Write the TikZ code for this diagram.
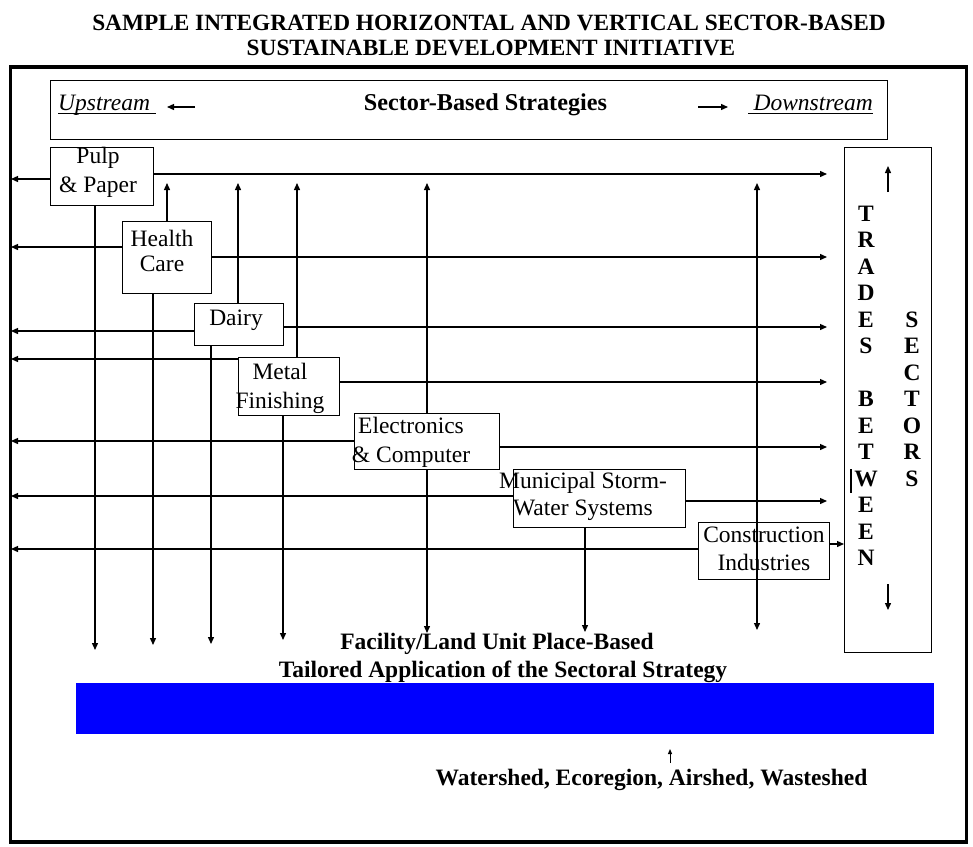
\documentclass[tikz,border=0pt]{standalone}
\usepackage{fontspec}
\setmainfont{Liberation Serif}
\usetikzlibrary{arrows.meta}
\begin{document}
\begin{tikzpicture}[x=1pt,y=-1pt,
  box/.style={draw, line width=1.3pt, inner sep=0pt, anchor=north west},
  lbl/.style={font=\fontsize{23.5}{28}\selectfont, align=center, inner sep=0pt, anchor=base},
  blbl/.style={font=\bfseries\fontsize{23.5}{28}\selectfont, inner sep=0pt, anchor=base},
  ilbl/.style={font=\itshape\fontsize{23.5}{28}\selectfont, inner sep=0pt},
  arr/.style={line width=1.3pt, -{Triangle[length=7pt,width=6pt]}},
  ln/.style={line width=1.3pt},
  uline/.style={line width=1pt},
]
\useasboundingbox (0,0) rectangle (973,846);
% outer frame
\node[draw, line width=3.5pt, inner sep=0pt, anchor=north west, minimum width=956pt, minimum height=775pt] (frame) at (8.5,65) {};
% title
\node[blbl, font=\bfseries\fontsize{23.3}{28}\selectfont] (t1) at (489,30) {SAMPLE INTEGRATED HORIZONTAL AND VERTICAL SECTOR-BASED};
\node[blbl, font=\bfseries\fontsize{23.3}{28}\selectfont] (t2) at (491,55) {SUSTAINABLE DEVELOPMENT INITIATIVE};
% sector-based strategies box
\node[box, minimum width=837pt, minimum height=59pt] (sbs) at (50,80) {};
\node[ilbl, anchor=base west] (up) at (58,110) {Upstream};
\draw[uline] ([yshift=-3.5pt]up.base west) -- ([yshift=-3.5pt,xshift=6pt]up.base east);
\node[blbl, font=\bfseries\fontsize{24.2}{28}\selectfont] (sbt) at (485.5,110) {Sector-Based Strategies};
\node[ilbl, anchor=base east] (down) at (873,110) {Downstream};
\draw[uline] ([yshift=-3.5pt,xshift=-5pt]down.base west) -- ([yshift=-3.5pt]down.base east);
\coordinate (ua1) at (195,107); \coordinate (ua2) at (167,107);
\draw[arr] (ua1) -- (ua2);
\coordinate (da1) at (698,107); \coordinate (da2) at (728,107);
\draw[arr] (da1) -- (da2);
% sector boxes
\node[box, minimum width=103pt, minimum height=58pt] (pulp) at (50,147) {};
\node[box, minimum width=89pt, minimum height=72pt] (health) at (122,221) {};
\node[box, minimum width=89pt, minimum height=42pt] (dairy) at (194,303) {};
\node[box, minimum width=101pt, minimum height=58pt] (metal) at (238,357) {};
\node[box, minimum width=145pt, minimum height=56pt] (elec) at (354,413) {};
\node[box, minimum width=172pt, minimum height=58pt] (muni) at (513,469) {};
\node[box, minimum width=131pt, minimum height=57pt] (cons) at (698,522) {};
\node[box, minimum width=87pt, minimum height=505pt] (trades) at (844,147) {};
% labels (anchored at the baseline of their last line)
\node[lbl, font=\fontsize{23.5}{29}\selectfont] (pulpt) at (98,192) {Pulp\\\& Paper};
\node[lbl, font=\fontsize{23.5}{25}\selectfont] (healtht) at (162,271) {Health\\Care};
\node[lbl] (dairyt) at (236,325) {Dairy};
\node[lbl, font=\fontsize{23.5}{29}\selectfont] (metalt) at (280,408) {Metal\\Finishing};
\node[lbl, font=\fontsize{23.5}{29}\selectfont] (elect) at (411,462) {Electronics\\\& Computer};
\node[lbl, font=\fontsize{23.5}{27}\selectfont] (munit) at (583,515) {Municipal Storm-\\Water Systems};
\node[lbl, font=\fontsize{23.5}{28}\selectfont] (const) at (764,570) {Construction\\Industries};
% right arrows
\coordinate (r1) at (827,174); \draw[arr] (pulp.east |- r1) -- (r1);
\coordinate (r2) at (827,257); \draw[arr] (health.east |- r2) -- (r2);
\coordinate (r3) at (827,327); \draw[arr] (dairy.east |- r3) -- (r3);
\coordinate (r4) at (827,382); \draw[arr] (metal.east |- r4) -- (r4);
\coordinate (r5) at (827,447); \draw[arr] (elec.east |- r5) -- (r5);
\coordinate (r6) at (827,501); \draw[arr] (muni.east |- r6) -- (r6);
\coordinate (r7) at (830,544); \draw[arr] (cons.east |- r7) -- (trades.west |- r7);
% left arrows
\coordinate (l1) at (11,179); \draw[arr] (pulp.west |- l1) -- (l1);
\coordinate (l2) at (11,247); \draw[arr] (health.west |- l2) -- (l2);
\coordinate (l3) at (11,331); \draw[arr] (dairy.west |- l3) -- (l3);
\coordinate (l4) at (11,359); \draw[arr] (metal.west |- l4) -- (l4);
\coordinate (l5) at (11,441); \draw[arr] (elec.west |- l5) -- (l5);
\coordinate (l6) at (11,496); \draw[arr] (muni.west |- l6) -- (l6);
\coordinate (l7) at (11,549); \draw[arr] (cons.west |- l7) -- (l7);
% up arrows
\coordinate (u1) at (167,183); \draw[arr] (health.north -| u1) -- (u1);
\coordinate (u2) at (238,183); \draw[arr] (dairy.north -| u2) -- (u2);
\coordinate (u3) at (297,183); \draw[arr] (metal.north -| u3) -- (u3);
\coordinate (u4) at (427,183); \draw[arr] (elec.north -| u4) -- (u4);
\coordinate (u5) at (757,183); \draw[arr] (cons.north -| u5) -- (u5);
% down arrows
\coordinate (d1) at (95,650); \draw[arr] (pulp.south -| d1) -- (d1);
\coordinate (d2) at (153,645); \draw[arr] (health.south -| d2) -- (d2);
\coordinate (d3) at (211,644); \draw[arr] (dairy.south -| d3) -- (d3);
\coordinate (d4) at (283,640); \draw[arr] (metal.south -| d4) -- (d4);
\coordinate (d5) at (427,633); \draw[arr] (elec.south -| d5) -- (d5);
\coordinate (d6) at (585,632); \draw[arr] (muni.south -| d6) -- (d6);
\coordinate (d7) at (757,630); \draw[arr] (cons.south -| d7) -- (d7);
\draw[ln] (cons.north -| d7) -- (cons.south -| d7);
% trades between sectors
\coordinate (ta1) at (888,192); \coordinate (ta2) at (888,166); \draw[arr] (ta1) -- (ta2);
\coordinate (tb1) at (888,584); \coordinate (tb2) at (888,610); \draw[arr] (tb1) -- (tb2);
\node[lbl, align=center, font=\bfseries\fontsize{23.5}{26.5}\selectfont] (col1) at (866,565.5) {T\\R\\A\\D\\E\\S\\\mbox{}\\B\\E\\T\\W\\E\\E\\N};
\node[lbl, align=center, font=\bfseries\fontsize{23.5}{26.5}\selectfont] (col2) at (912,486) {S\\E\\C\\T\\O\\R\\S};
\coordinate (g1) at (851,469); \coordinate (g2) at (851,493);
\draw[line width=2.5pt] (g1) -- (g2);
% blue bar and place-based texts
\node[fill=blue, inner sep=0pt, anchor=north west, minimum width=858pt, minimum height=51pt] (bar) at (76,683) {};
\node[blbl] (fac1) at (497,649) {Facility/Land Unit Place-Based};
\node[blbl] (fac2) at (503,677) {Tailored Application of the Sectoral Strategy};
\coordinate (wa1) at (670,763); \coordinate (wa2) at (670,749);
\draw[line width=1pt, -{Triangle[length=5pt,width=4pt]}] (wa1) -- (wa2);
\node[blbl] (ws) at (651.5,785) {Watershed, Ecoregion, Airshed, Wasteshed};
\end{tikzpicture}
\end{document}
